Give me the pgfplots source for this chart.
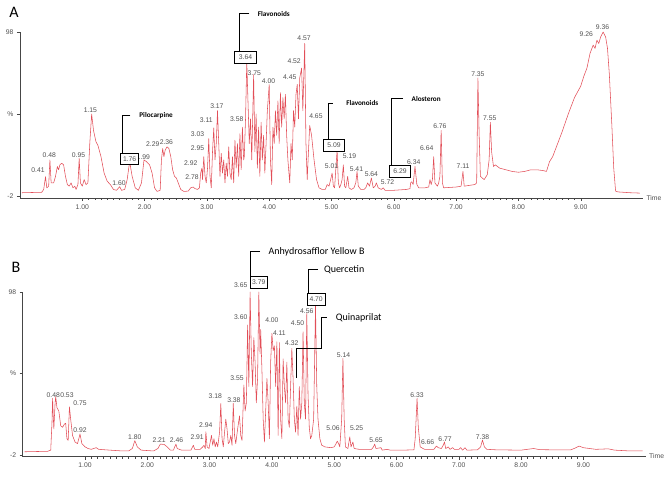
\documentclass[border=0pt]{standalone}
\usepackage{fontspec}
\setmainfont{Liberation Sans}
\newfontfamily\calfont{Carlito}
\usepackage{pgfplots}
\pgfplotsset{compat=1.18}
\definecolor{trace}{RGB}{226,78,88}
\definecolor{labgray}{RGB}{80,80,80}
\definecolor{axgray}{RGB}{70,70,70}
\newcommand{\nf}{\fontsize{6.8}{7}\selectfont}
\tikzset{
 lab/.style={font=\nf, text=labgray, inner sep=0pt},
 bx/.style={draw=black, line width=0.9pt, fill=white, inner sep=0pt, font=\nf, text=labgray},
 cl/.style={black, line width=1pt},
 tr/.style={color=trace, mark=none, line width=0.55pt, line join=round},
}
\pgfplotsset{chrom/.style={
 scale only axis, width=623pt, xmin=0, xmax=10,
 axis x line*=bottom, axis y line*=left,
 axis line style={axgray, line width=0.6pt, -},
 xtick={1,2,3,4,5,6,7,8,9}, minor x tick num=9,
 xticklabel style={font=\nf, text=labgray, /pgf/number format/.cd, fixed, fixed zerofill, precision=2, assume math mode=true},
 tick align=outside, major tick length=3pt, minor tick length=2pt,
 tick style={axgray, line width=0.4pt},
 ytick={-2,48,98}, yticklabels={-2,\%,98},
 yticklabel style={font=\nf, text=labgray},
 clip=false,
}}
\begin{document}
\begin{tikzpicture}
\path[use as bounding box] (0,0) rectangle (668pt,477pt);
\node[font=\calfont\fontsize{16}{16}\selectfont] at (14pt,465pt) {A};
\node[font=\calfont\fontsize{16}{16}\selectfont] at (16pt,210pt) {B};
% ---------------- Panel A
\begin{axis}[chrom, at={(20pt,279pt)}, anchor=south west, height=166pt, ymin=-3.2, ymax=98]
\addplot[tr] coordinates {(0.03,0) (0.35,0.3) (0.38,2) (0.41,9.8) (0.43,3) (0.46,4) (0.48,20) (0.50,6) (0.54,6) (0.57,10) (0.60,16) (0.62,14) (0.64,17) (0.67,18) (0.70,17) (0.73,10) (0.76,5) (0.79,4) (0.82,6) (0.85,3) (0.88,4) (0.90,2) (0.93,5) (0.95,21) (0.97,6) (1.00,4) (1.03,8) (1.06,5) (1.09,6) (1.12,30) (1.15,48) (1.18,38) (1.22,31) (1.25,29) (1.30,22) (1.35,12) (1.40,7) (1.45,5) (1.50,2) (1.55,1.5) (1.60,3.7) (1.63,1.5) (1.68,2) (1.72,8) (1.76,19) (1.80,10) (1.85,3) (1.90,1.5) (1.95,6) (1.99,20) (2.03,19) (2.08,17) (2.12,12) (2.16,3) (2.20,0.8) (2.25,1.5) (2.27,20) (2.29,27) (2.31,22) (2.33,26) (2.36,28) (2.39,27) (2.42,22) (2.45,14) (2.48,10) (2.51,9) (2.54,6) (2.58,2) (2.63,0.8) (2.70,1) (2.74,3) (2.78,3.5) (2.81,2.5) (2.85,2) (2.88,3) (2.90,12) (2.92,15) (2.93,8) (2.95,22) (2.97,10) (2.99,6) (3.01,15) (3.03,33) (3.05,10) (3.07,3) (3.09,25) (3.11,39.5) (3.13,20) (3.15,30) (3.17,50) (3.19,30) (3.21,10) (3.23,24) (3.25,12) (3.27,20) (3.29,6) (3.31,18) (3.33,10) (3.35,28) (3.37,12) (3.39,8) (3.41,22) (3.43,6) (3.45,32) (3.47,15) (3.49,30) (3.51,10) (3.53,36) (3.55,14) (3.57,40) (3.59,20) (3.60,22) (3.62,45) (3.64,80) (3.66,55) (3.68,30) (3.70,45) (3.72,20) (3.75,72) (3.77,25) (3.79,48) (3.81,15) (3.83,40) (3.85,10) (3.87,43) (3.89,20) (3.91,35) (3.93,12) (3.95,30) (3.97,50) (4.00,66) (4.02,20) (4.04,5) (4.06,40) (4.08,30) (4.10,50) (4.12,35) (4.14,56) (4.16,30) (4.18,61) (4.20,40) (4.22,58) (4.24,45) (4.26,60) (4.28,35) (4.30,20) (4.33,6) (4.35,30) (4.37,20) (4.39,50) (4.41,40) (4.43,60) (4.45,66) (4.47,45) (4.49,70) (4.52,76) (4.54,50) (4.57,91) (4.59,30) (4.61,8) (4.63,25) (4.65,41) (4.68,35) (4.72,20) (4.76,8) (4.80,3) (4.85,2) (4.90,2) (4.93,5) (4.96,4) (4.98,7) (5.01,12) (5.03,4) (5.05,3) (5.07,15) (5.09,26) (5.11,6) (5.13,3) (5.15,5) (5.17,8) (5.19,17) (5.21,4) (5.23,3) (5.26,10) (5.28,3) (5.32,2) (5.36,3) (5.39,6) (5.41,13) (5.43,4) (5.47,2) (5.52,2) (5.55,3) (5.58,6) (5.61,4) (5.64,9) (5.67,3) (5.70,4) (5.72,6) (5.75,3) (5.80,2) (5.83,3) (5.86,1.5) (6.00,1.5) (6.20,2) (6.26,2.5) (6.27,6) (6.29,6.7) (6.31,5) (6.34,16) (6.37,5) (6.40,3) (6.50,3) (6.56,3.5) (6.58,8) (6.60,5) (6.62,8) (6.64,22) (6.66,6) (6.70,4) (6.72,6) (6.74,10) (6.76,38) (6.78,6) (6.80,3) (7.00,3.5) (7.08,4) (7.11,13) (7.13,4) (7.30,5) (7.33,6) (7.35,70) (7.37,35) (7.39,10) (7.45,8) (7.50,11) (7.53,20) (7.55,43) (7.57,25) (7.60,16) (7.63,17) (7.70,15) (7.80,14) (7.90,13) (8.00,12.5) (8.10,13) (8.20,14) (8.30,14) (8.40,13.5) (8.45,13) (8.50,19) (8.55,22) (8.60,27) (8.70,37) (8.80,48) (8.90,58) (9.00,65) (9.05,71) (9.10,76) (9.15,85) (9.20,90) (9.23,88) (9.26,93) (9.29,91) (9.32,95) (9.36,98) (9.40,95) (9.43,88) (9.46,72) (9.50,41) (9.53,15) (9.56,1) (9.60,0.5) (9.80,0) (9.95,-0.2)};
\node[anchor=west, font=\nf, text=labgray] at (axis cs:10,-3.2) {Time};
\node[lab] at (axis cs:0.29,13.9) {0.41};
\node[lab] at (axis cs:0.47,23) {0.48};
\node[lab] at (axis cs:0.94,23) {0.95};
\node[lab] at (axis cs:1.13,50.5) {1.15};
\node[lab] at (axis cs:1.59,5.7) {1.60};
\node[lab] at (axis cs:1.98,22) {1.99};
\node[lab] at (axis cs:2.13,29.7) {2.29};
\node[lab] at (axis cs:2.35,31) {2.36};
\node[lab] at (axis cs:2.76,9.8) {2.78};
\node[lab] at (axis cs:2.74,18) {2.92};
\node[lab] at (axis cs:2.85,27) {2.95};
\node[lab] at (axis cs:2.85,36) {3.03};
\node[lab] at (axis cs:2.99,44) {3.11};
\node[lab] at (axis cs:3.16,52.5) {3.17};
\node[lab] at (axis cs:3.48,44.8) {3.58};
\node[lab] at (axis cs:3.76,73) {3.75};
\node[lab] at (axis cs:3.99,68.3) {4.00};
\node[lab] at (axis cs:4.33,70.4) {4.45};
\node[lab] at (axis cs:4.40,80.5) {4.52};
\node[lab] at (axis cs:4.56,94) {4.57};
\node[lab] at (axis cs:4.75,46.8) {4.65};
\node[lab] at (axis cs:5.00,16.3) {5.01};
\node[lab] at (axis cs:5.29,22.6) {5.19};
\node[lab] at (axis cs:5.40,14.3) {5.41};
\node[lab] at (axis cs:5.64,11.4) {5.64};
\node[lab] at (axis cs:5.90,6.7) {5.72};
\node[lab] at (axis cs:6.32,18.5) {6.34};
\node[lab] at (axis cs:6.53,27) {6.64};
\node[lab] at (axis cs:6.74,40.7) {6.76};
\node[lab] at (axis cs:7.11,16.3) {7.11};
\node[lab] at (axis cs:7.35,72.4) {7.35};
\node[lab] at (axis cs:7.54,45.4) {7.55};
\node[lab] at (axis cs:9.09,96.6) {9.26};
\node[lab] at (axis cs:9.35,101) {9.36};
% callouts
\draw[cl] (axis cs:1.77,46.8) -- (axis cs:1.64,46.8) -- (axis cs:1.64,24.2);
\node[anchor=west, font=\calfont\bfseries\fontsize{7.2}{8}\selectfont] at (axis cs:1.86,46.8) {Pilocarpine};
\node[bx, minimum width=17.6pt, minimum height=10.7pt] at (axis cs:1.76,20.7) {1.76};
\draw[cl] (axis cs:3.68,109) -- (axis cs:3.52,109) -- (axis cs:3.52,86.4);
\node[anchor=west, font=\calfont\bfseries\fontsize{7.2}{8}\selectfont] at (axis cs:3.76,109) {Flavonoids};
\node[bx, minimum width=22.4pt, minimum height=12.3pt] at (axis cs:3.62,82.6) {3.64};
\draw[cl] (axis cs:5.02,54.5) -- (axis cs:4.95,54.5) -- (axis cs:4.95,32.6);
\node[anchor=west, font=\calfont\bfseries\fontsize{7.2}{8}\selectfont] at (axis cs:5.18,54.5) {Flavonoids};
\node[bx, minimum width=21.7pt, minimum height=12.4pt] at (axis cs:5.04,28.8) {5.09};
\draw[cl] (axis cs:6.15,57.2) -- (axis cs:5.96,57.2) -- (axis cs:5.96,16.5);
\node[anchor=west, font=\calfont\bfseries\fontsize{7.2}{8}\selectfont] at (axis cs:6.23,57.2) {Alosteron};
\node[bx, minimum width=21.4pt, minimum height=11.6pt] at (axis cs:6.10,12.9) {6.29};
\end{axis}
% ---------------- Panel B
\begin{axis}[chrom, at={(22.7pt,20.5pt)}, anchor=south west, height=164.5pt, ymin=-2.9, ymax=98]
\addplot[tr] coordinates {(0.03,0) (0.40,0.3) (0.45,1) (0.47,18) (0.48,32.8) (0.49,22) (0.50,14) (0.52,30) (0.53,33.8) (0.55,27) (0.58,25) (0.61,16) (0.64,15) (0.67,17) (0.69,17.5) (0.71,8) (0.73,7) (0.75,27.6) (0.77,20) (0.80,10) (0.84,6) (0.88,5) (0.92,10.9) (0.95,5) (1.00,3) (1.05,2) (1.10,1.5) (1.18,2.5) (1.22,1.5) (1.40,1) (1.60,0.5) (1.70,0.5) (1.76,2) (1.80,6.8) (1.84,3) (1.90,1) (2.10,0.5) (2.17,2) (2.21,4.7) (2.27,4.5) (2.32,3) (2.37,1) (2.42,1) (2.44,3) (2.46,4.7) (2.48,2) (2.55,1) (2.70,1) (2.74,4) (2.76,1.5) (2.85,1.5) (2.89,3) (2.91,4) (2.93,2) (2.94,12.3) (2.96,3) (2.99,2) (3.01,6) (3.03,10) (3.05,4) (3.07,8) (3.09,3) (3.11,6) (3.13,3) (3.16,12) (3.18,29.7) (3.20,8) (3.22,3) (3.24,12) (3.26,20) (3.28,14) (3.30,5) (3.32,6) (3.34,10) (3.36,4) (3.38,29.7) (3.40,10) (3.42,5) (3.45,14) (3.48,22) (3.50,10) (3.52,7) (3.55,41) (3.57,25) (3.59,30) (3.61,77.8) (3.63,40) (3.65,98) (3.67,60) (3.69,40) (3.71,70) (3.73,55) (3.75,30) (3.77,45) (3.79,98) (3.81,60) (3.82,75) (3.84,50) (3.86,20) (3.88,6) (3.90,25) (3.92,45) (3.94,30) (3.96,8) (3.98,55) (4.00,72.7) (4.02,62) (4.04,65) (4.06,40) (4.08,67.5) (4.10,10) (4.12,67) (4.14,20) (4.16,8) (4.18,57) (4.20,40) (4.22,30) (4.24,55) (4.26,20) (4.28,15) (4.30,40) (4.32,63.4) (4.34,45) (4.36,20) (4.38,12) (4.40,28) (4.42,10) (4.44,40) (4.46,20) (4.48,30) (4.50,73.6) (4.52,30) (4.54,20) (4.56,85) (4.58,35) (4.60,15) (4.62,8) (4.64,10) (4.67,20) (4.70,90) (4.72,40) (4.74,20) (4.77,8) (4.80,4) (4.85,3) (4.95,2.5) (5.00,3) (5.03,5) (5.05,6.5) (5.07,5) (5.09,3) (5.12,20) (5.14,57.3) (5.16,20) (5.18,3) (5.22,2) (5.25,9.2) (5.27,3) (5.30,6) (5.32,2) (5.40,1.5) (5.60,1.5) (5.63,3) (5.65,4.7) (5.67,2) (5.75,2.5) (5.77,1) (5.85,1.5) (5.90,1) (6.10,1) (6.28,1.2) (6.30,8) (6.33,32.8) (6.35,15) (6.38,3) (6.45,1.5) (6.60,1.5) (6.64,3.5) (6.67,2.5) (6.72,2) (6.75,4) (6.77,6) (6.79,2) (6.83,3) (6.86,1.5) (6.90,2.5) (6.93,1.5) (7.00,1.5) (7.03,2.5) (7.06,1) (7.10,2.5) (7.13,1) (7.30,1.2) (7.35,3) (7.38,7.2) (7.41,3) (7.45,1.5) (7.60,1.2) (8.00,1) (8.10,1.5) (8.20,2) (8.30,1.3) (8.50,1.2) (8.80,1.2) (8.88,2.5) (8.93,3.5) (9.00,2.5) (9.10,2) (9.20,1.5) (9.40,1.8) (9.50,1) (9.70,0.6) (9.95,0.5)};
\node[anchor=west, font=\nf, text=labgray] at (axis cs:10,-2.9) {Time};
\node[lab] at (axis cs:0.49,34.8) {0.48};
\node[lab] at (axis cs:0.71,34.8) {0.53};
\node[lab] at (axis cs:0.92,30.1) {0.75};
\node[lab] at (axis cs:0.92,13.3) {0.92};
\node[lab] at (axis cs:1.80,9.2) {1.80};
\node[lab] at (axis cs:2.19,7.2) {2.21};
\node[lab] at (axis cs:2.47,7.2) {2.46};
\node[lab] at (axis cs:2.80,9.2) {2.91};
\node[lab] at (axis cs:2.94,16.4) {2.94};
\node[lab] at (axis cs:3.09,34.2) {3.18};
\node[lab] at (axis cs:3.39,31.7) {3.38};
\node[lab] at (axis cs:3.44,45.4) {3.55};
\node[lab] at (axis cs:3.50,82.8) {3.60};
\node[lab] at (axis cs:3.50,102) {3.65};
\node[lab] at (axis cs:4.00,80.8) {4.00};
\node[lab] at (axis cs:4.12,73) {4.11};
\node[lab] at (axis cs:4.32,66.5) {4.32};
\node[lab] at (axis cs:4.41,78.8) {4.50};
\node[lab] at (axis cs:4.56,86.5) {4.56};
\node[lab] at (axis cs:4.98,14.4) {5.06};
\node[lab] at (axis cs:5.15,59.3) {5.14};
\node[lab] at (axis cs:5.36,14.4) {5.25};
\node[lab] at (axis cs:5.67,7.2) {5.65};
\node[lab] at (axis cs:6.33,34.6) {6.33};
\node[lab] at (axis cs:6.50,6.2) {6.66};
\node[lab] at (axis cs:6.78,7.6) {6.77};
\node[lab] at (axis cs:7.38,9.2) {7.38};
% callouts
\draw[cl] (axis cs:3.81,122.7) -- (axis cs:3.66,122.7) -- (axis cs:3.66,107.8);
\node[anchor=west, font=\calfont\fontsize{10}{11}\selectfont] at (axis cs:3.89,122.7) {Anhydrosafflor Yellow B};
\node[bx, minimum width=16.6pt, minimum height=12.3pt] at (axis cs:3.79,104) {3.79};
\draw[cl] (axis cs:4.74,111.5) -- (axis cs:4.58,111.5) -- (axis cs:4.58,97.2);
\node[anchor=west, font=\calfont\fontsize{10}{11}\selectfont] at (axis cs:4.78,111.5) {Quercetin};
\node[bx, minimum width=17.7pt, minimum height=12.4pt] at (axis cs:4.71,93.4) {4.70};
\draw[cl] (axis cs:4.40,45.1) -- (axis cs:4.40,63.5) -- (axis cs:4.80,63.5) -- (axis cs:4.80,82.2) -- (axis cs:4.88,82.2);
\node[anchor=west, font=\calfont\fontsize{10}{11}\selectfont] at (axis cs:4.97,82.2) {Quinaprilat};
\end{axis}
\end{tikzpicture}
\end{document}
